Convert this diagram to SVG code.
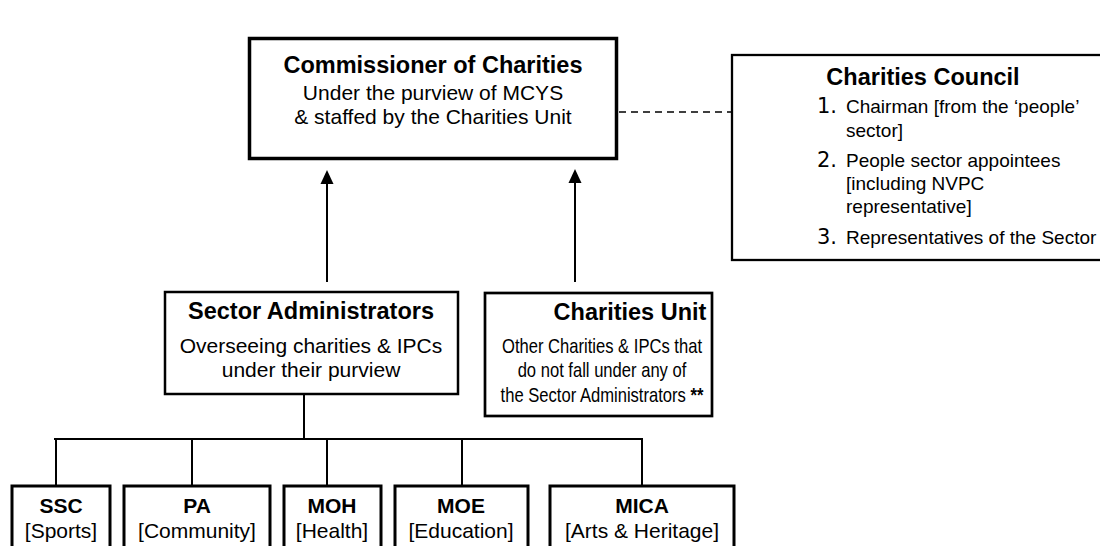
<svg xmlns="http://www.w3.org/2000/svg" width="1100" height="546" viewBox="0 0 1100 546">
  <style>
    text { font-family: "Liberation Sans", Arial, Helvetica, sans-serif; fill: #000; }
    .title { font-weight: bold; font-size: 23.5px; text-anchor: middle; }
    .body { font-size: 21px; text-anchor: middle; }
    .cu { font-size: 20px; text-anchor: middle; }
    .item { font-size: 19px; }
    .num { font-family: "DejaVu Sans", Verdana, sans-serif; font-size: 21px; }
    .sub { font-weight: bold; font-size: 21px; text-anchor: middle; }
    .subb { font-size: 21px; text-anchor: middle; }
    .box { fill: #fff; stroke: #000; }
    .wire { fill: none; stroke: #000; stroke-width: 2; }
  </style>

  <rect width="1100" height="546" fill="#fff"/>

  <!-- connectors -->
  <g id="connectors">
    <!-- reporting arrows up to the Commissioner -->
    <line class="wire" x1="327" y1="183" x2="327" y2="282"/>
    <polygon points="327,170 320.5,184 333.5,184" fill="#000"/>
    <line class="wire" x1="575" y1="182" x2="575" y2="282"/>
    <polygon points="575,169 568.5,183 581.5,183" fill="#000"/>
    <!-- advisory link to the Council -->
    <line x1="619" y1="112" x2="731" y2="112" stroke="#000" stroke-width="1.7" stroke-dasharray="7 5"/>
    <!-- tree from Sector Administrators to the five ministries -->
    <line class="wire" x1="304" y1="394" x2="304" y2="439"/>
    <line class="wire" x1="54" y1="439" x2="643" y2="439"/>
    <line class="wire" x1="56" y1="439" x2="56" y2="485"/>
    <line class="wire" x1="192" y1="439" x2="192" y2="485"/>
    <line class="wire" x1="327" y1="439" x2="327" y2="485"/>
    <line class="wire" x1="462" y1="439" x2="462" y2="485"/>
    <line class="wire" x1="642" y1="439" x2="642" y2="485"/>
  </g>

  <g id="commissioner">
    <rect class="box" x="249.5" y="38.5" width="367" height="120" stroke-width="3.5"/>
    <text class="title" x="433" y="73">Commissioner of Charities</text>
    <text class="body" x="433" y="100">Under the purview of MCYS</text>
    <text class="body" x="433" y="124">&amp; staffed by the Charities Unit</text>
  </g>

  <g id="charities-council">
    <rect class="box" x="732" y="55" width="390" height="205" stroke-width="2.3"/>
    <text class="title" x="923" y="85">Charities Council</text>
    <text class="num" x="817" y="113">1.</text>
    <text class="item" x="846" y="113">Chairman [from the ‘people’</text>
    <text class="item" x="846" y="137">sector]</text>
    <text class="num" x="817" y="167">2.</text>
    <text class="item" x="846" y="167">People sector appointees</text>
    <text class="item" x="846" y="190">[including NVPC</text>
    <text class="item" x="846" y="213">representative]</text>
    <text class="num" x="817" y="244">3.</text>
    <text class="item" x="846" y="244">Representatives of the Sector</text>
  </g>

  <g id="sector-administrators">
    <rect class="box" x="165" y="292" width="293" height="102" stroke-width="2.5"/>
    <text class="title" x="311" y="319">Sector Administrators</text>
    <text class="body" x="311" y="353">Overseeing charities &amp; IPCs</text>
    <text class="body" x="311" y="377">under their purview</text>
  </g>

  <g id="charities-unit">
    <rect class="box" x="485" y="293" width="227" height="123" stroke-width="2.7"/>
    <text class="title" x="630" y="320">Charities Unit</text>
    <!-- body copy is set condensed, centred on x=602 -->
    <g transform="matrix(0.83 0 0 1 102.34 0)">
      <text class="cu" x="602" y="353">Other Charities &amp; IPCs that</text>
      <text class="cu" x="602" y="377">do not fall under any of</text>
      <text class="cu" x="602" y="402">the Sector Administrators <tspan font-weight="bold">**</tspan></text>
    </g>
  </g>

  <g id="ssc">
    <rect class="box" x="12" y="486" width="98" height="80" stroke-width="3"/>
    <text class="sub" x="61" y="513">SSC</text>
    <text class="subb" x="61" y="538">[Sports]</text>
  </g>
  <g id="pa">
    <rect class="box" x="124" y="486" width="146" height="80" stroke-width="3"/>
    <text class="sub" x="197" y="513">PA</text>
    <text class="subb" x="197" y="538">[Community]</text>
  </g>
  <g id="moh">
    <rect class="box" x="284" y="486" width="97" height="80" stroke-width="3"/>
    <text class="sub" x="332" y="513">MOH</text>
    <text class="subb" x="332" y="538">[Health]</text>
  </g>
  <g id="moe">
    <rect class="box" x="395" y="486" width="133" height="80" stroke-width="3"/>
    <text class="sub" x="461" y="513">MOE</text>
    <text class="subb" x="461" y="538">[Education]</text>
  </g>
  <g id="mica">
    <rect class="box" x="550" y="486" width="184" height="80" stroke-width="3"/>
    <text class="sub" x="642" y="513">MICA</text>
    <text class="subb" x="642" y="538">[Arts &amp; Heritage]</text>
  </g>
</svg>
